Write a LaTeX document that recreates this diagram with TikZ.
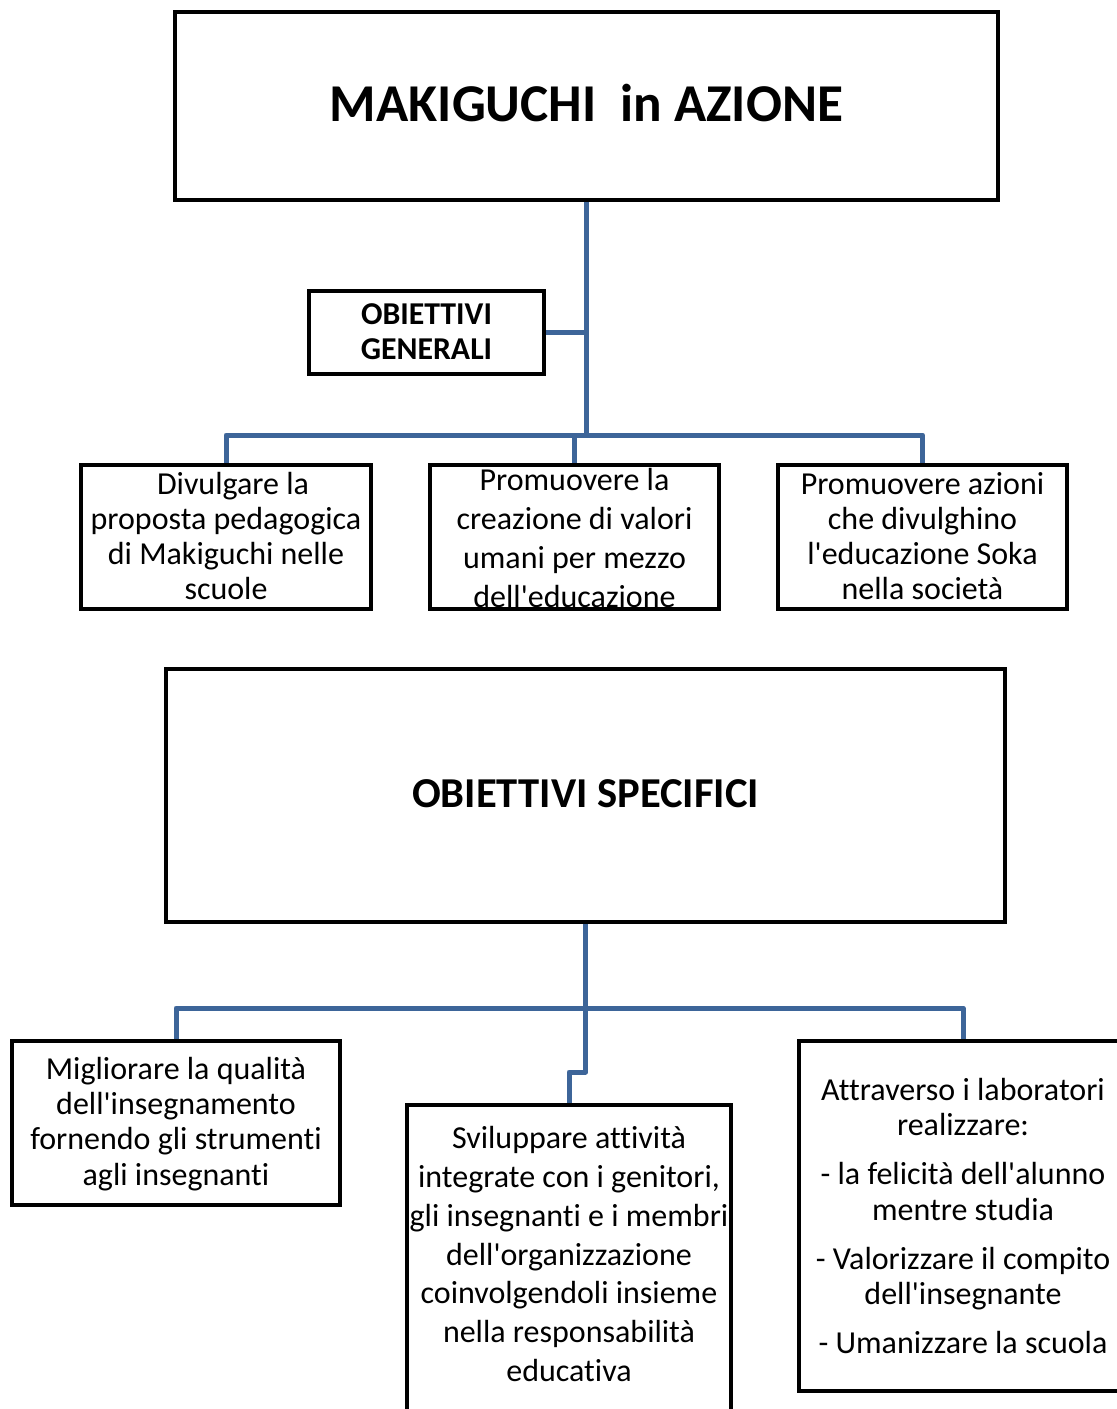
\documentclass[tikz,border=0pt]{standalone}
\usepackage{fontspec}
\setmainfont{Carlito}[Ligatures=CommonOff]
\definecolor{linkblue}{RGB}{61,101,153}
% straight apostrophe, kept out of the TeX quote mapping
\newcommand{\apos}{\XeTeXglyph\XeTeXcharglyph"0027\relax}
\begin{document}
\begin{tikzpicture}[x=0.5pt,y=-0.5pt,
  frame/.style={draw=black,line width=2pt,fill=white,inner sep=0pt,rectangle},
  txt/.style={align=center,inner sep=0pt,font=\fontsize{16}{17.6}\selectfont},
  bigtxt/.style={align=center,inner sep=0pt,font=\fontsize{16}{19.4}\selectfont},
  link/.style={draw=linkblue,line width=2.5pt,line join=round}]
\useasboundingbox (0,0) rectangle (1117,1409);
\begin{scope}
\clip (0,0) rectangle (1117,1409);

% junction points of the blue connectors
\coordinate (j1) at (586.5,435);
\coordinate (j2) at (585.5,1008);
\coordinate (k) at (585.5,1072);

% upper part
\node[frame,minimum width=411.5pt,minimum height=94pt] (title) at (586.5,106) {};
\node[font=\fontsize{26.6}{30}\selectfont\bfseries,inner sep=0pt] (titletxt) at (586.5,103) {MAKIGUCHI\ \ in AZIONE};

\node[frame,minimum width=117.5pt,minimum height=41.5pt] (gen) at (426.5,332.5) {};
\node[align=center,inner sep=0pt,font=\fontsize{15.9}{17.5}\selectfont\bfseries] (gentxt) at (426.5,332) {OBIETTIVI\\GENERALI};

\node[frame,minimum width=145pt,minimum height=72pt] (b1) at (226,537) {};
\node[frame,minimum width=144.5pt,minimum height=72pt] (b2) at (574.5,537) {};
\node[frame,minimum width=144.5pt,minimum height=72pt] (b3) at (922.5,537) {};

\draw[link] (title.south) -- (j1);
\draw[link] (gen.east) -- (gen.east -| j1);
\draw[link] (b1.north) |- (j1);
\draw[link] (b3.north) |- (j1);
\draw[link] (b2.north) -- (b2.north |- j1);

\node[txt] (b1txt) at (226,536) {\hspace*{7pt}Divulgare la\\proposta pedagogica\\di Makiguchi nelle\\scuole};
\node[bigtxt] (b2txt) at (574.5,538) {Promuovere la\\creazione di valori\\umani per mezzo\\dell\apos educazione};
\node[txt] (b3txt) at (922.5,536) {Promuovere azioni\\che divulghino\\l\apos educazione Soka\\nella società};

% lower part
\node[frame,minimum width=419.5pt,minimum height=126.5pt] (spec) at (585.5,795.5) {};
\node[font=\fontsize{21.3}{25}\selectfont\bfseries,inner sep=0pt] (spectxt) at (585.5,794) {OBIETTIVI SPECIFICI};

\node[frame,minimum width=164pt,minimum height=82pt] (b4) at (176,1123) {};
\node[frame,minimum width=162pt,minimum height=167.5pt] (b5) at (569,1272.5) {};
\node[frame,minimum width=164pt,minimum height=175pt] (b6) at (963,1216) {};

\draw[link] (spec.south) -- (j2);
\draw[link] (b4.north) |- (j2);
\draw[link] (b6.north) |- (j2);
\draw[link] (j2) -- (k) -| (b5.north);

\node[txt] (b4txt) at (176,1124) {Migliorare la qualità\\dell\apos insegnamento\\fornendo gli strumenti\\agli insegnanti};
\node[bigtxt] (b5txt) at (569,1254) {Sviluppare attività\\integrate con i genitori,\\gli insegnanti e i membri\\dell\apos organizzazione\\coinvolgendoli insieme\\nella responsabilità\\educativa};
\node[txt] (b6txt) at (963,1216) {Attraverso i laboratori\\realizzare:\\[7pt]- la felicità dell\apos alunno\\mentre studia\\[7pt]- Valorizzare il compito\\dell\apos insegnante\\[7pt]- Umanizzare la scuola};
\end{scope}
\end{tikzpicture}
\end{document}
